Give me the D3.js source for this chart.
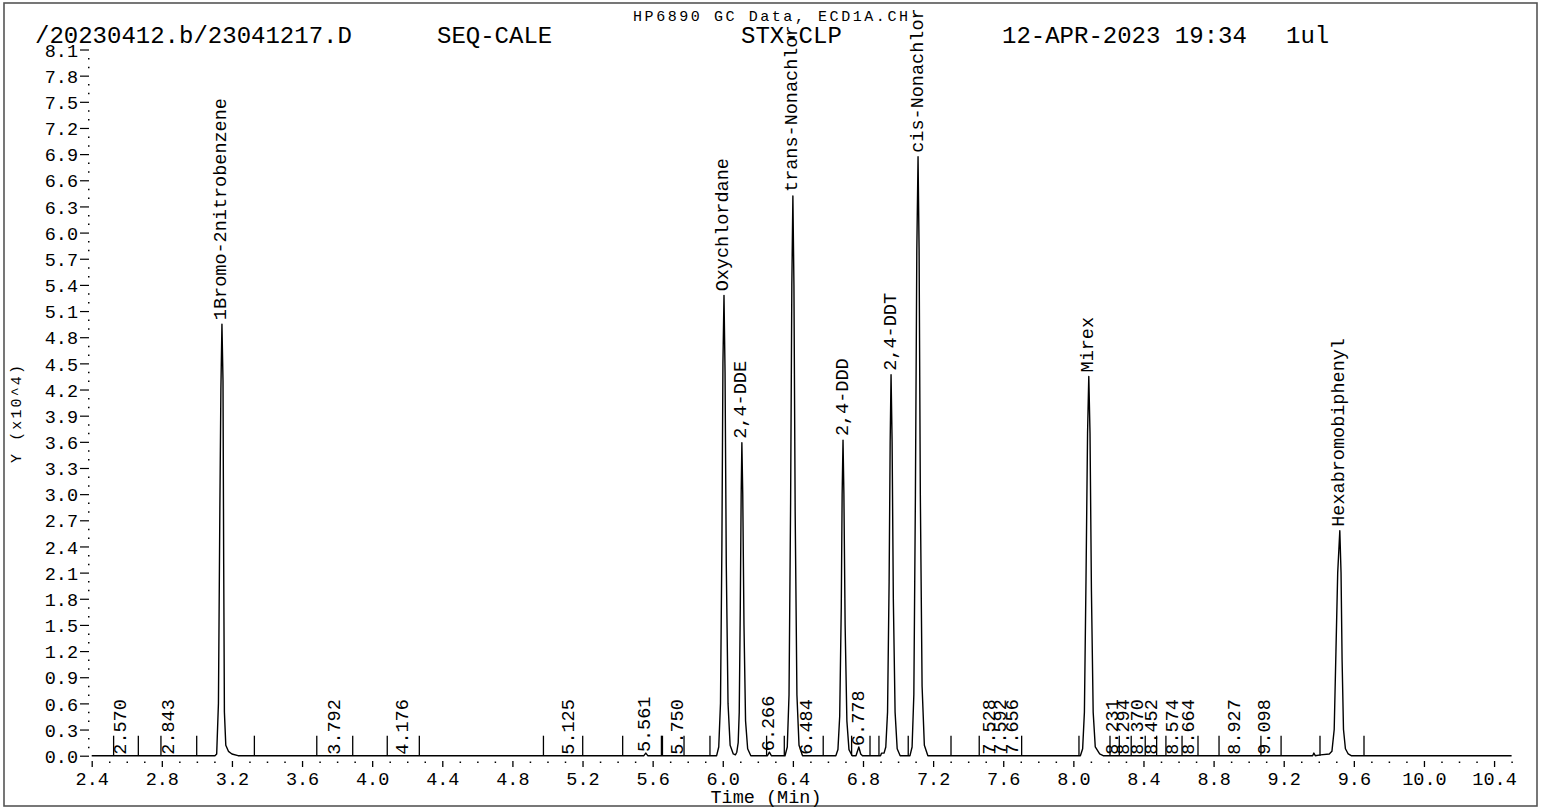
<!DOCTYPE html>
<html>
<head>
<meta charset="utf-8">
<script src="https://cdn.jsdelivr.net/npm/d3@7"></script>
<style>
  html, body { margin: 0; padding: 0; background: #fff; }
  svg { display: block; }
  text { font-family: "Liberation Mono", "DejaVu Sans Mono", monospace; fill: #000; }
</style>
</head>
<body>
<svg id="chart" width="1541" height="808"></svg>
<script>
// GC chromatogram (ECD)

const headerTexts = ['/20230412.b/23041217.D', 'SEQ-CALE', 'STX-CLP', '12-APR-2023 19:34', '1ul'];
const subTitle = 'HP6890 GC Data, ECD1A.CH';
const xTitle = 'Time (Min)';
const yTitle = 'Y (x10^4)';

const xTickValues = [2.4, 2.8, 3.2, 3.6, 4.0, 4.4, 4.8, 5.2, 5.6, 6.0, 6.4, 6.8, 7.2, 7.6, 8.0, 8.4, 8.8, 9.2, 9.6, 10.0, 10.4];
const yTickValues = [0.0, 0.3, 0.6, 0.9, 1.2, 1.5, 1.8, 2.1, 2.4, 2.7, 3.0, 3.3, 3.6, 3.9, 4.2, 4.5, 4.8, 5.1, 5.4, 5.7, 6.0, 6.3, 6.6, 6.9, 7.2, 7.5, 7.8, 8.1];

// named compounds
const peakNames = ['1Bromo-2nitrobenzene', 'Oxychlordane', '2,4-DDE', 'trans-Nonachlor', '2,4-DDD', '2,4-DDT', 'cis-Nonachlor', 'Mirex', 'Hexabromobiphenyl'];
const peakTimes = [3.143, 6.007, 6.109, 6.400, 6.686, 6.960, 7.114, 8.088, 9.520];
const peakHeights = [4.95, 5.28, 3.59, 6.42, 3.62, 4.37, 6.87, 4.35, 2.58];

// unnamed small peaks (labelled with retention time)
const minorTimes = [2.570, 2.843, 3.792, 4.176, 5.125, 5.561, 5.750, 6.266, 6.484, 6.778, 7.528, 7.592, 7.656, 8.231, 8.294, 8.370, 8.452, 8.574, 8.664, 8.927, 9.098];
const minorHeights = [0.00, 0.00, 0.00, 0.00, 0.00, 0.03, 0.00, 0.04, 0.00, 0.10, 0.00, 0.00, 0.00, 0.00, 0.00, 0.00, 0.00, 0.00, 0.00, 0.00, 0.00];

// integration start / end markers
const eventTimes = [2.525, 2.666, 2.795, 2.999, 3.328, 3.684, 3.889, 4.086, 4.269, 4.977, 5.201, 5.429, 5.650, 5.656, 5.779, 5.927,
  6.250, 6.351, 6.573, 6.735, 6.840, 6.891, 7.058, 7.302, 7.463, 7.705, 8.032, 8.209, 8.262, 8.330, 8.410, 8.475, 8.528,
  8.620, 8.711, 8.831, 9.070, 9.185, 9.407, 9.658];

// detector trace [time (min), signal x10^4]
const trace = [
  [2.400, 0.00],
  [3.103, 0.00], [3.113, 0.02], [3.123, 0.60], [3.131, 2.80], [3.137, 4.20], [3.143, 4.95], [3.149, 4.30], [3.153, 2.20],
  [3.157, 0.50], [3.165, 0.12], [3.180, 0.05], [3.200, 0.02], [3.235, 0.00],
  [5.550, 0.00], [5.561, 0.03], [5.572, 0.00],
  [5.965, 0.00], [5.977, 0.10], [5.987, 0.60], [5.995, 2.40], [6.001, 4.50], [6.007, 5.28], [6.013, 4.40], [6.020, 2.20],
  [6.030, 0.60], [6.042, 0.12], [6.060, 0.02], [6.072, 0.01],
  [6.080, 0.04], [6.088, 0.15], [6.094, 0.50], [6.100, 1.70], [6.105, 3.00], [6.109, 3.59], [6.114, 3.00], [6.121, 1.50],
  [6.130, 0.40], [6.142, 0.08], [6.160, 0.00],
  [6.255, 0.00], [6.266, 0.04], [6.277, 0.00],
  [6.355, 0.00], [6.368, 0.10], [6.378, 0.70], [6.387, 2.90], [6.394, 5.40], [6.400, 6.42], [6.406, 5.40], [6.413, 2.80],
  [6.423, 0.70], [6.435, 0.12], [6.455, 0.00],
  [6.645, 0.00], [6.657, 0.07], [6.667, 0.45], [6.676, 1.70], [6.681, 3.00], [6.686, 3.62], [6.691, 3.00], [6.698, 1.50],
  [6.708, 0.40], [6.720, 0.07], [6.738, 0.00],
  [6.760, 0.00], [6.776, 0.10], [6.787, 0.02], [6.797, 0.00],
  [6.900, 0.00], [6.906, 0.03], [6.920, 0.03], [6.930, 0.10], [6.940, 0.50], [6.949, 2.00], [6.955, 3.60], [6.960, 4.37],
  [6.966, 3.60], [6.973, 1.80], [6.983, 0.50], [6.995, 0.08], [7.012, 0.00],
  [7.068, 0.00], [7.080, 0.10], [7.090, 0.70], [7.099, 3.00], [7.107, 5.80], [7.114, 6.87], [7.120, 5.80], [7.127, 3.00],
  [7.137, 0.80], [7.150, 0.12], [7.170, 0.00],
  [8.040, 0.00], [8.053, 0.08], [8.063, 0.50], [8.072, 2.00], [8.081, 3.70], [8.088, 4.35], [8.095, 3.70], [8.103, 1.90],
  [8.113, 0.50], [8.125, 0.10], [8.150, 0.02], [8.170, 0.00],
  [9.365, 0.00], [9.372, 0.03], [9.380, 0.00], [9.410, 0.01], [9.460, 0.02],
  [9.475, 0.05], [9.488, 0.30], [9.498, 1.20], [9.508, 2.10], [9.520, 2.58], [9.527, 2.10], [9.533, 1.10], [9.541, 0.30],
  [9.552, 0.08], [9.568, 0.02], [9.585, 0.00],
  [10.500, 0.00]
];

const svg = d3.select('#chart');
const width = 1541;
const height = 808;

const x = d3.scaleLinear().domain([2.4, 10.5]).range([91.7, 1511.6]);
const y = d3.scaleLinear().domain([0, 8.1]).range([755.7, 49.5]);

// outer frame
svg.append('rect')
  .attr('x', 4).attr('y', 3)
  .attr('width', 1533).attr('height', 803)
  .attr('fill', 'none')
  .attr('stroke', '#555')
  .attr('stroke-width', 1.6);

// header line
const headerX = [35, 437, 741, 1002, 1286];
svg.selectAll('.header')
  .data(headerTexts)
  .enter()
  .append('text')
  .attr('class', 'header')
  .attr('x', (d, i) => headerX[i])
  .attr('y', 43)
  .style('font-size', '24px')
  .text(d => d);

svg.append('text')
  .attr('x', 633)
  .attr('y', 21)
  .attr('textLength', 275)
  .attr('lengthAdjust', 'spacing')
  .style('font-size', '15px')
  .text(subTitle);

// x axis (major ticks + labels)
const xAxis = d3.axisBottom(x)
  .tickValues(xTickValues)
  .tickSize(6)
  .tickPadding(5)
  .tickFormat(d3.format('.1f'));

const gx = svg.append('g')
  .attr('transform', 'translate(0,761)')
  .call(xAxis);
gx.select('.domain').remove();
gx.selectAll('line').attr('stroke', '#000').attr('stroke-width', 1.3);
gx.selectAll('text')
  .attr('y', 24).attr('dy', 0)
  .style('font-size', '18.5px')
  .style('font-family', '"Liberation Mono", monospace');

// x minor ticks (dots)
const xMinor = d3.axisBottom(x)
  .tickValues(d3.range(25, 106).map(v => v / 10).filter(v => Math.round(v * 10) % 4 !== 0))
  .tickSize(1.5)
  .tickFormat('');
const gxm = svg.append('g')
  .attr('transform', 'translate(0,761.5)')
  .call(xMinor);
gxm.select('.domain').remove();
gxm.selectAll('line').attr('stroke', '#000').attr('stroke-width', 1.5);

svg.append('text')
  .attr('x', 766)
  .attr('y', 803)
  .attr('text-anchor', 'middle')
  .style('font-size', '18.5px')
  .text(xTitle);

// y axis (major ticks + labels)
const yAxis = d3.axisLeft(y)
  .tickValues(yTickValues)
  .tickSize(9)
  .tickPadding(2)
  .tickFormat(d3.format('.1f'));

const gy = svg.append('g')
  .attr('transform', 'translate(89,0)')
  .call(yAxis);
gy.select('.domain').remove();
gy.selectAll('line').attr('stroke', '#000').attr('stroke-width', 1.2);
gy.selectAll('text')
  .attr('dy', '0.36em')
  .style('font-size', '18.5px')
  .style('font-family', '"Liberation Mono", monospace');

// y minor ticks (dots)
const yMinor = d3.axisLeft(y)
  .tickValues(d3.range(0, 82).map(v => v / 10).filter(v => Math.round(v * 10) % 3 !== 0))
  .tickSize(1.5)
  .tickFormat('');
const gym = svg.append('g')
  .attr('transform', 'translate(89.5,0)')
  .call(yMinor);
gym.select('.domain').remove();
gym.selectAll('line').attr('stroke', '#000').attr('stroke-width', 1.5);

svg.append('text')
  .attr('transform', 'translate(17,414) rotate(-90)')
  .attr('text-anchor', 'middle')
  .attr('dominant-baseline', 'central')
  .attr('textLength', 98)
  .attr('lengthAdjust', 'spacing')
  .style('font-size', '15px')
  .text(yTitle);

// integration event bars
svg.selectAll('.event')
  .data(eventTimes)
  .enter()
  .append('line')
  .attr('class', 'event')
  .attr('x1', d => x(d)).attr('x2', d => x(d))
  .attr('y1', y(0)).attr('y2', y(0) - 20)
  .attr('stroke', '#000')
  .attr('stroke-width', 1.3);

// signal trace
const line = d3.line()
  .x(d => x(d[0]))
  .y(d => y(d[1]));

svg.append('path')
  .datum(trace)
  .attr('d', line)
  .attr('fill', 'none')
  .attr('stroke', '#000')
  .attr('stroke-width', 1.4)
  .attr('stroke-linejoin', 'round');

// retention time labels for small peaks
svg.selectAll('.minor-label')
  .data(minorTimes)
  .enter()
  .append('text')
  .attr('class', 'minor-label')
  .attr('transform', (d, i) => `translate(${x(d)},${y(minorHeights[i]) - 1}) rotate(-90)`)
  .attr('dominant-baseline', 'central')
  .style('font-size', '18.5px')
  .text(d => d3.format('.3f')(d));

// compound labels
svg.selectAll('.peak-label')
  .data(peakNames)
  .enter()
  .append('text')
  .attr('class', 'peak-label')
  .attr('transform', (d, i) => `translate(${x(peakTimes[i])},${y(peakHeights[i]) - 4}) rotate(-90)`)
  .attr('dominant-baseline', 'central')
  .style('font-size', '18.5px')
  .text(d => d);
</script>
</body>
</html>
